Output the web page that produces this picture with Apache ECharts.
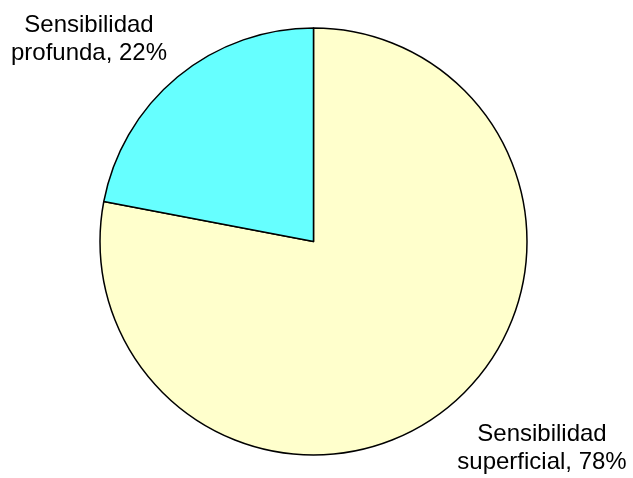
<!DOCTYPE html>
<html>
<head>
<meta charset="utf-8">
<style>
html,body{margin:0;padding:0;background:#fff;}
#chart{width:633px;height:478px;}
</style>
<script src="https://cdn.jsdelivr.net/npm/echarts@6/dist/echarts.min.js"></script>
</head>
<body>
<div id="chart"></div>
<script>
var categories = ['Sensibilidad superficial', 'Sensibilidad profunda'];
var values = [78, 22];
var colors = ['#FFFFCC', '#66FFFF'];
var labelPos = [[542, 448], [89, 39]];

var chart = echarts.init(document.getElementById('chart'));
chart.setOption({
  animation: false,
  backgroundColor: '#ffffff',
  series: [{
    type: 'pie',
    center: [313.5, 241.5],
    radius: [0, 213.5],
    startAngle: 90,
    clockwise: true,
    data: categories.map(function (c, i) {
      return { name: c, value: values[i], itemStyle: { color: colors[i] } };
    }),
    itemStyle: { borderColor: '#000', borderWidth: 1.5 },
    label: {
      show: true,
      position: 'outside',
      color: '#000',
      fontFamily: 'Liberation Sans, Arial, sans-serif',
      fontSize: 24,
      lineHeight: 28,
      align: 'center',
      overflow: 'none',
      width: 300,
      formatter: function (p) {
        return p.name.replace(' ', '\n') + ', ' + Math.round(p.percent) + '%';
      }
    },
    labelLine: { show: false },
    labelLayout: function (params) {
      var pos = labelPos[params.dataIndex];
      return { x: pos[0], y: pos[1], align: 'center', verticalAlign: 'middle' };
    },
    emphasis: { disabled: true }
  }]
});
</script>
</body>
</html>
